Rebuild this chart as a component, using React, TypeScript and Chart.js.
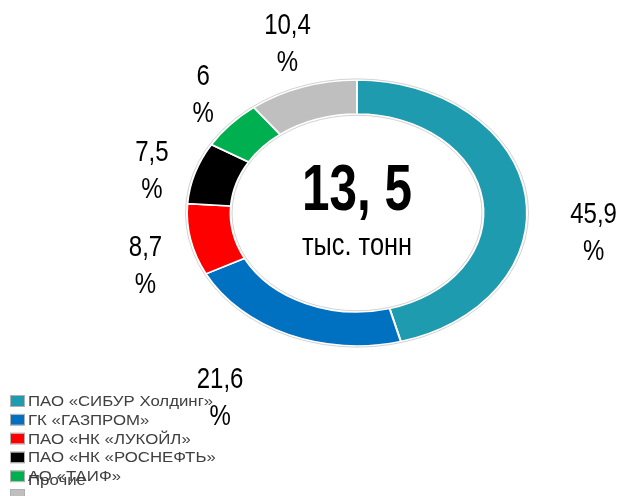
import React, { useEffect, useRef } from 'react';
import { Chart, registerables } from 'chart.js';

Chart.register(...registerables);

// ---- data ----
const categories = [
  'ПАО «СИБУР Холдинг»',
  'ГК «ГАЗПРОМ»',
  'ПАО «НК «ЛУКОЙЛ»',
  'ПАО «НК «РОСНЕФТЬ»',
  'АО «ТАИФ»',
  'Прочие',
];
const shares = [45.9, 21.6, 8.7, 7.5, 6, 10.4];
const shareLabels = ['45,9', '21,6', '8,7', '7,5', '6', '10,4'];
const totalValue = '13, 5';
const totalUnit = 'тыс. тонн';

// ---- styling ----
const colors = ['#1E9BAE', '#0070C0', '#FF0000', '#000000', '#00B050', '#BFBFBF'];
const labelNudges: [number, number][] = [
  [68, 35],
  [-68, 61],
  [-45, 24],
  [-43, -4],
  [-27, -32],
  [-15, -45],
];
const Y_SCALE = 0.782;
const FONT = '"Liberation Sans", Arial, sans-serif';

function arcProps(chart: any, i: number) {
  const el = chart.getDatasetMeta(0).data[i];
  return el.getProps(['x', 'y', 'startAngle', 'endAngle', 'outerRadius', 'innerRadius'], true);
}

const ellipsePlugin = {
  id: 'ellipseRing',
  beforeDatasetsDraw(chart: any) {
    const { x, y } = arcProps(chart, 0);
    const ctx = chart.ctx;
    ctx.save();
    ctx.translate(x, y);
    ctx.scale(1, Y_SCALE);
    ctx.translate(-x, -y);
  },
  afterDatasetsDraw(chart: any) {
    const ctx = chart.ctx;
    ctx.restore();
    const { x, y, outerRadius, innerRadius } = arcProps(chart, 0);
    ctx.save();
    ctx.strokeStyle = '#d2d2d2';
    ctx.lineWidth = 1;
    const ro = outerRadius + 1.5;
    const ri = innerRadius - 1.5;
    ctx.beginPath();
    ctx.ellipse(x, y, ro, ro * Y_SCALE, 0, 0, Math.PI * 2);
    ctx.stroke();
    ctx.beginPath();
    ctx.ellipse(x, y, ri, ri * Y_SCALE, 0, 0, Math.PI * 2);
    ctx.stroke();
    ctx.restore();
  },
};

function drawText(
  ctx: CanvasRenderingContext2D,
  text: string,
  x: number,
  baseline: number,
  font: string,
  sx: number,
  color: string,
  align: CanvasTextAlign = 'center',
) {
  ctx.save();
  ctx.translate(x, baseline);
  ctx.scale(sx, 1);
  ctx.font = font;
  ctx.fillStyle = color;
  ctx.textAlign = align;
  ctx.textBaseline = 'alphabetic';
  ctx.fillText(text, 0, 0);
  ctx.restore();
}

function drawFitted(
  ctx: CanvasRenderingContext2D,
  text: string,
  x: number,
  baseline: number,
  font: string,
  width: number,
  color: string,
) {
  ctx.save();
  ctx.font = font;
  const w = ctx.measureText(text).width;
  ctx.restore();
  drawText(ctx, text, x, baseline, font, width / w, color);
}

const textPlugin = {
  id: 'texts',
  afterDraw(chart: any) {
    const ctx: CanvasRenderingContext2D = chart.ctx;
    const meta = chart.getDatasetMeta(0);
    const c = arcProps(chart, 0);

    // data labels
    const lblSize = 30;
    const lblFont = `${lblSize}px ${FONT}`;
    meta.data.forEach((_: any, i: number) => {
      const p = arcProps(chart, i);
      const a = (p.startAngle + p.endAngle) / 2;
      const bx = p.x + p.outerRadius * Math.cos(a) + labelNudges[i][0];
      const by = p.y + p.outerRadius * Math.sin(a) * Y_SCALE + labelNudges[i][1];
      const half = 18.5;
      const cap = lblSize * 0.358;
      drawText(ctx, shareLabels[i], bx, by - half + cap, lblFont, 0.8, '#000');
      drawText(ctx, '%', bx, by + half + cap, lblFont, 0.8, '#000');
    });

    // center text
    drawFitted(ctx, totalValue, c.x, 210, `bold 65px ${FONT}`, 110, '#000');
    drawFitted(ctx, totalUnit, c.x, 255, `31px ${FONT}`, 110, '#000');

    // legend
    const rowY0 = 401;
    const rowStep = 18.8;
    const legFont = `14px ${FONT}`;
    chart.data.labels.forEach((lab: string, i: number) => {
      const ry = rowY0 + i * rowStep;
      ctx.save();
      ctx.fillStyle = colors[i];
      ctx.fillRect(10.5, ry - 5, 14, 10);
      ctx.strokeStyle = '#b0b0b0';
      ctx.lineWidth = 1;
      ctx.strokeRect(10.5, ry - 5.5, 14, 11);
      ctx.restore();
      const ty = i === chart.data.labels.length - 1 ? ry - 15 : ry;
      drawText(ctx, lab, 28, ty + 5, legFont, 1.2, '#404040', 'left');
    });
  },
};

export default function App() {
  const ref = useRef<HTMLCanvasElement>(null);
  useEffect(() => {
    const chart = new Chart(ref.current as HTMLCanvasElement, {
      type: 'doughnut',
      data: {
        labels: categories,
        datasets: [
          {
            data: shares,
            backgroundColor: colors,
            borderColor: '#ffffff',
            borderWidth: 2,
          },
        ],
      },
      options: {
        responsive: false,
        animation: false,
        cutout: '74.4%',
        rotation: 0,
        events: [],
        layout: { padding: { left: 186, right: 95, top: 42, bottom: 112 } },
        plugins: { legend: { display: false }, tooltip: { enabled: false } },
      },
      plugins: [ellipsePlugin, textPlugin],
    });
    return () => chart.destroy();
  }, []);
  return (
    <div style={{ position: 'fixed', left: 0, top: 0, width: 623, height: 496, background: '#fff' }}>
      <canvas ref={ref} width={623} height={496} style={{ display: 'block' }} />
    </div>
  );
}
